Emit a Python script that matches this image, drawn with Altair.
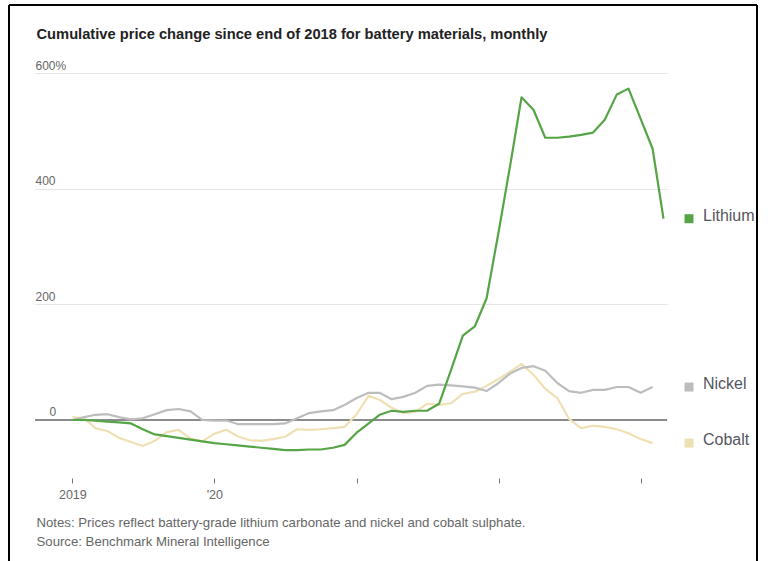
import altair as alt
import pandas as pd

# ---- data (monthly, Jan 2019 onward; cumulative % change since end of 2018) ----
months = pd.date_range("2019-01-01", periods=51, freq="MS").strftime("%Y-%m-%d").tolist()

lithium = [0, 0, -1, -3, -4, -6, -16, -25, -28, -31, -34, -37, -40, -42, -44, -46, -48, -50,
           -52, -52, -51, -51, -48, -43, -22, -6, 9, 16, 14, 16, 16, 28, 87, 146, 162, 210,
           325, 445, 558, 536, 488, 488, 490, 493, 497, 519, 563, 573, 521, 469, 348]
nickel = [0, 5, 9, 10, 5, 1, 3, 10, 17, 19, 15, 0, -1, -1, -7, -7, -7, -7, -6, 3,
          12, 15, 17, 26, 38, 47, 47, 36, 40, 47, 59, 61, 60, 58, 56, 50, 64, 81, 90, 93,
          85, 64, 50, 47, 52, 52, 57, 57, 47, 57]
cobalt = [5, 3, -14, -19, -31, -38, -45, -36, -21, -17, -32, -37, -24, -17, -28, -35, -36, -33, -29, -16,
          -17, -16, -14, -12, 10, 42, 35, 21, 12, 14, 28, 26, 29, 45, 49, 59, 71, 84, 97, 78,
          54, 38, 2, -14, -10, -12, -16, -23, -33, -40]

series_names = ["Lithium", "Nickel", "Cobalt"]
series_colors = ["#55a546", "#bdbdbd", "#efe0b4"]
y_ticks = [0, 200, 400, 600]

title_text = "Cumulative price change since end of 2018 for battery materials, monthly"
notes_text = ["Notes: Prices reflect battery-grade lithium carbonate and nickel and cobalt sulphate.",
              "Source: Benchmark Mineral Intelligence"]

rows = []
for name, vals in zip(series_names, [lithium, nickel, cobalt]):
    for d, v in zip(months, vals):
        rows.append({"date": d, "value": v, "material": name})
df = pd.DataFrame(rows)
last = df.groupby("material", sort=False).tail(1).reset_index(drop=True)

W, H = 632, 401
FONT = "Liberation Sans"

yscale = alt.Scale(domain=[-93.4, 600], nice=False, zero=False)
yaxis = alt.Axis(
    values=y_ticks, grid=True, gridColor="#e6e6e6", gridWidth=1, domain=False, ticks=False,
    labelAlign="left", labelBaseline="alphabetic",
    labelPadding={"condition": {"test": "datum.value == 0", "value": -14}, "value": 0},
    labelOffset=-4,
    labelExpr="datum.value == 600 ? '600%' : datum.label",
    labelFont=FONT, labelFontSize=12, labelColor="#666666",
    title=title_text, titleAngle=0, titleAlign="left", titleBaseline="alphabetic",
    titleX=1, titleY=-35, titleFont=FONT, titleFontSize=14.7, titleFontWeight="bold",
    titleColor="#222222",
)
xscale = alt.Scale(type="utc", domain=[alt.DateTime(year=2018, month=9, date=27, utc=True),
                                      alt.DateTime(year=2023, month=3, date=10, utc=True)])
xaxis = alt.Axis(
    values=[alt.DateTime(year=y, month=1, date=1, utc=True) for y in range(2019, 2024)],
    grid=False, domain=False, ticks=True, tickColor="#777777", tickSize=5, offset=4,
    labelExpr="utcyear(datum.value) == 2019 ? '2019' : (utcyear(datum.value) == 2020 ? \"'20\" : '')",
    labelFont=FONT, labelFontSize=12.5, labelColor="#666666", labelPadding=5,
    title=notes_text, titleAlign="left", titleAnchor="start", titleBaseline="alphabetic",
    titleX=1, titleY=48, titleFont=FONT, titleFontSize=13.2, titleFontWeight="normal",
    titleColor="#666666", titleLineHeight=19,
)

color = alt.Color("material:N", scale=alt.Scale(domain=series_names, range=series_colors), legend=None)

zero = alt.Chart(pd.DataFrame({"value": [0]})).mark_rule(color="#8c8c8c", strokeWidth=2).encode(
    y=alt.Y("value:Q", scale=yscale, axis=yaxis), x=alt.value(0), x2=alt.value(W)
)

lines = alt.Chart(df).mark_line(strokeWidth=2.2, strokeJoin="round").encode(
    x=alt.X("date:T", scale=xscale, axis=xaxis),
    y=alt.Y("value:Q", scale=yscale, axis=yaxis),
    color=color,
    order=alt.Order("date:T"),
    detail="material:N",
)
# draw cobalt, nickel, lithium (lithium on top)
line_layers = [lines.transform_filter(alt.datum.material == n) for n in ["Cobalt", "Nickel", "Lithium"]]

leg_sq = alt.Chart(last).mark_square(size=81, opacity=1, dy=-3).encode(
    x=alt.value(654), y=alt.Y("value:Q", scale=yscale, axis=yaxis), color=color
)
leg_tx = alt.Chart(last).mark_text(align="left", baseline="middle", dy=-3, font=FONT, fontSize=16,
                                    color="#555560").encode(
    x=alt.value(668), y=alt.Y("value:Q", scale=yscale, axis=yaxis), text="material:N"
)

frame_src = alt.Chart(pd.DataFrame({"k": [0]}))
frame = alt.layer(
    frame_src.mark_rule(color="black", strokeWidth=2).encode(x=alt.value(-26), y=alt.value(-68), y2=alt.value(488)),
    frame_src.mark_rule(color="black", strokeWidth=2).encode(x=alt.value(-26), x2=alt.value(722), y=alt.value(-68)),
    frame_src.mark_rule(color="black", strokeWidth=2).encode(x=alt.value(722), y=alt.value(-68), y2=alt.value(488)),
)

chart = alt.layer(zero, *line_layers, leg_sq, leg_tx, frame).properties(
    width=W, height=H,
    autosize=alt.AutoSizeParams(type="none"),
    padding={"left": 35, "top": 73, "right": 768 - 35 - W, "bottom": 561 - 73 - H},
    background="white",
).configure_view(stroke=None)

chart.save("out.html", embed_options={"renderer": "svg", "actions": False})
